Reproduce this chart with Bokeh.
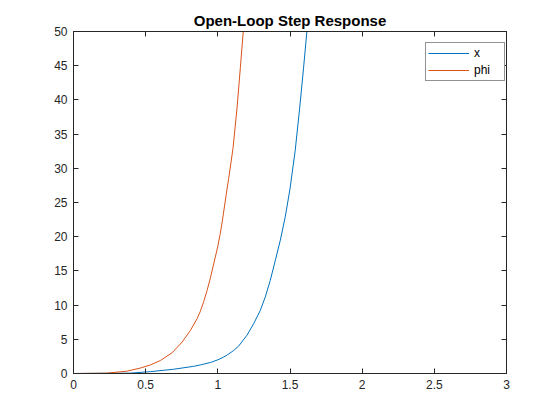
from bokeh.plotting import figure
from bokeh.models import (FixedTicker, CustomJSTickFormatter, LinearAxis, Legend,
                          LegendItem, Range1d)
from bokeh.embed import file_html
from bokeh.resources import INLINE

# ---- data ----
t_x = [0.0, 0.39, 0.533, 0.694, 0.832, 0.879, 0.95, 1.00, 1.04, 1.064, 1.109,
       1.144, 1.202, 1.248, 1.294, 1.329, 1.363, 1.398, 1.433, 1.467, 1.50,
       1.536, 1.567, 1.594, 1.617]
x_vals = [0.0, 0.05, 0.27, 0.62, 1.05, 1.25, 1.62, 2.0, 2.4, 2.7, 3.35,
          4.0, 5.6, 7.28, 9.22, 11.2, 13.6, 16.5, 19.5, 22.9, 27.0,
          32.6, 38.8, 44.7, 50.0]

t_phi = [0.0, 0.23, 0.37, 0.464, 0.533, 0.602, 0.683, 0.752, 0.81, 0.856,
         0.879, 0.902, 0.925, 0.95, 0.971, 0.999, 1.017, 1.029, 1.059, 1.075,
         1.105, 1.133, 1.156, 1.176]
phi_vals = [0.0, 0.05, 0.34, 0.8, 1.25, 1.9, 3.03, 4.58, 6.3, 8.0,
            9.1, 10.5, 12.1, 14.1, 16.0, 18.5, 20.5, 22.0, 26.3, 28.5,
            32.9, 38.8, 44.7, 50.0]

x_ticks = [0, 0.5, 1, 1.5, 2, 2.5, 3]
y_ticks = [0, 5, 10, 15, 20, 25, 30, 35, 40, 45, 50]
series_names = ["x", "phi"]
title_text = "Open-Loop Step Response"

BLUE = "#0072BD"
ORANGE = "#D95319"
AX = "#262626"
FONT = "Liberation Sans"

p = figure(width=560, height=420, output_backend="svg", toolbar_location=None,
           x_range=Range1d(0, 3), y_range=Range1d(0, 50),
           min_border_left=73, min_border_right=54, min_border_top=31,
           min_border_bottom=47, x_axis_location=None, y_axis_location=None)

p.title.text = title_text
p.title.align = "center"
p.title.text_font = FONT
p.title.text_font_size = "15px"
p.title.text_font_style = "bold"
p.title.text_color = "#000000"
p.title.standoff = 6
p.title.offset = 0

p.grid.visible = False
p.outline_line_color = AX
p.outline_line_width = 1
p.background_fill_color = "white"
p.border_fill_color = "white"

fmt = CustomJSTickFormatter(code="return String(Math.round(tick*10)/10);")

def mk_axis(ticks, labels=True):
    ax = LinearAxis(ticker=FixedTicker(ticks=ticks), formatter=fmt)
    ax.axis_line_color = AX
    ax.major_tick_line_color = AX
    ax.major_tick_in = 5
    ax.major_tick_out = 0
    ax.minor_tick_line_color = None
    if labels:
        ax.major_label_text_font = FONT
        ax.major_label_text_font_size = "12px"
        ax.major_label_text_color = AX
    else:
        ax.major_label_text_font_size = "0px"
        ax.major_label_standoff = 0
    return ax

xb = mk_axis(x_ticks)
xb.major_label_standoff = 6
yl = mk_axis(y_ticks)
yl.major_label_standoff = 6
xt = mk_axis(x_ticks, labels=False)
yr = mk_axis(y_ticks, labels=False)
p.add_layout(xb, "below")
p.add_layout(yl, "left")
p.add_layout(xt, "above")
p.add_layout(yr, "right")

r_x = p.line(t_x, x_vals, line_color=BLUE, line_width=1)
r_phi = p.line(t_phi, phi_vals, line_color=ORANGE, line_width=1)

legend = Legend(items=[LegendItem(label=series_names[0], renderers=[r_x]),
                       LegendItem(label=series_names[1], renderers=[r_phi])],
                location=(352, 292))
legend.border_line_color = AX
legend.border_line_width = 1
legend.background_fill_color = "white"
legend.background_fill_alpha = 1
legend.padding = 2
legend.margin = 0
legend.spacing = 1
legend.glyph_width = 41
legend.glyph_height = 16
legend.label_height = 16
legend.label_width = 28
legend.label_standoff = 5
legend.label_text_font = FONT
legend.label_text_font_size = "12px"
legend.label_text_color = "#000000"
p.add_layout(legend, "center")

open("out.html", "w").write(file_html(p, INLINE))
